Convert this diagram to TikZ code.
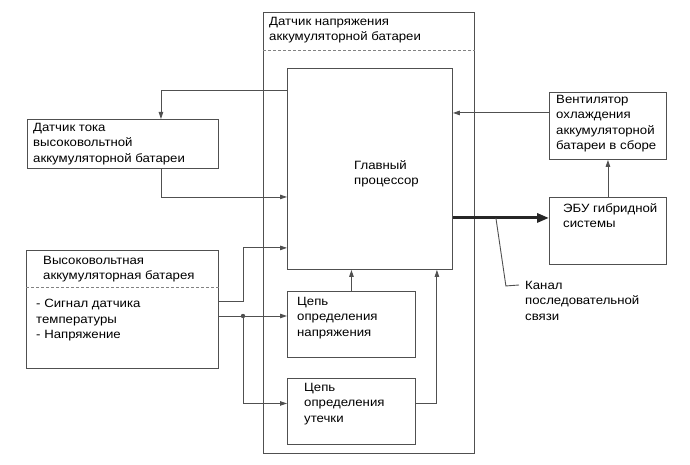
\documentclass[tikz,border=0pt]{standalone}
\usepackage{fontspec}
\setmainfont{Liberation Sans}[FakeStretch=1.1]
\definecolor{lnclr}{RGB}{80,80,80}
\definecolor{dshclr}{RGB}{130,130,130}
\usetikzlibrary{arrows.meta,calc}

\begin{document}
\begin{tikzpicture}[x=1pt, y=-1pt, >={Triangle[length=7pt,width=4.5pt]},
  every node/.style={font=\fontsize{12}{15.5}\selectfont},
  bx/.style={draw=lnclr, line width=0.9pt, anchor=north west, inner sep=0pt},
  txt/.style={anchor=north west, inner sep=0pt, align=left},
  ln/.style={draw=lnclr, line width=0.9pt},
  dsh/.style={draw=dshclr, line width=0.8pt, dash pattern=on 3pt off 2pt},
  bus/.style={draw=black!85, line width=3pt, -{Triangle[length=12pt,width=9pt]}}]
\useasboundingbox (0,0) rectangle (690,465);
% Boxes
\node[bx, minimum width=211pt, minimum height=441pt] (sens) at (263,12) {};
\node[bx, minimum width=165pt, minimum height=201pt] (cpu) at (287,68) {};
\node[bx, minimum width=128pt, minimum height=66pt] (vdet) at (287,291) {};
\node[bx, minimum width=128pt, minimum height=66pt] (leak) at (287,378) {};
\node[bx, minimum width=191pt, minimum height=49pt] (cur) at (27,119) {};
\node[bx, minimum width=192pt, minimum height=118pt] (hvb) at (26,250) {};
\node[bx, minimum width=117pt, minimum height=67pt] (fan) at (549,92) {};
\node[bx, minimum width=117pt, minimum height=67pt] (ecu) at (549,197) {};
\draw[dsh] ([yshift=-38pt]sens.north west) -- ([yshift=-38pt]sens.north east);
\draw[dsh] ([yshift=-37pt]hvb.north west) -- ([yshift=-37pt]hvb.north east);
% Texts
\node[txt] (senst) at ([xshift=6pt,yshift=-5pt]sens.north west) {Датчик напряжения\\аккумуляторной батареи};
\node[txt] (cput) at ([xshift=67pt,yshift=-92pt]cpu.north west) {Главный\\процессор};
\node[txt] (vdett) at ([xshift=10pt,yshift=-6pt]vdet.north west) {Цепь\\определения\\напряжения};
\node[txt] (leakt) at ([xshift=17pt,yshift=-5pt]leak.north west) {Цепь\\определения\\утечки};
\node[txt] (curt) at ([xshift=6pt,yshift=-4pt]cur.north west) {Датчик тока\\высоковольтной\\аккумуляторной батареи};
\node[txt] (hvbt) at ([xshift=17pt,yshift=-6pt]hvb.north west) {Высоковольтная\\аккумуляторная батарея};
\node[txt] (hvbl) at ([xshift=10pt,yshift=-49pt]hvb.north west) {- Сигнал датчика\\температуры\\- Напряжение};
\node[txt] (fant) at ([xshift=7pt,yshift=-3pt]fan.north west) {Вентилятор\\охлаждения\\аккумуляторной\\батареи в сборе};
\node[txt] (ecut) at ([xshift=14pt,yshift=-6pt]ecu.north west) {ЭБУ гибридной\\системы};
\node[txt] (chan) at (525,281) {Канал\\последовательной\\связи};
% Connectors
\draw[ln,->] ([yshift=-22pt]cpu.north west) -| ([xshift=38pt]cur.north);
\draw[ln,->] ([xshift=38pt]cur.south) |- ([yshift=-28pt]cpu.west);
\draw[ln,->] ([yshift=8pt]hvb.east) -- ++(25,0) |- ([yshift=22pt]cpu.south west);
\coordinate (dot) at (243,316);
\draw[ln,->] (dot -| hvb.east) -- (dot -| vdet.west);
\draw[ln,->] (dot) |- ([yshift=8pt]leak.west);
\fill[lnclr] (dot) circle (2.2pt);
\draw[ln,->] (vdet.north) -- (vdet.north |- cpu.south);
\draw[ln,->] ([yshift=8pt]leak.east) -| ([xshift=-16pt]cpu.south east);
\draw[ln,->] ([yshift=13pt]fan.west) coordinate (fw) -- (fw -| cpu.east);
\draw[ln,->] (ecu.north) -- (fan.south);
\path ([yshift=13pt]ecu.west) coordinate (ew);
\draw[bus] (ew -| cpu.east) -- (ew);
\coordinate (tap) at ($(ew -| cpu.east)+(43,0)$);
\draw[ln] (tap) -- ++(10,68) -- ([xshift=-6pt,yshift=-4pt]chan.north west);
\end{tikzpicture}
\end{document}
